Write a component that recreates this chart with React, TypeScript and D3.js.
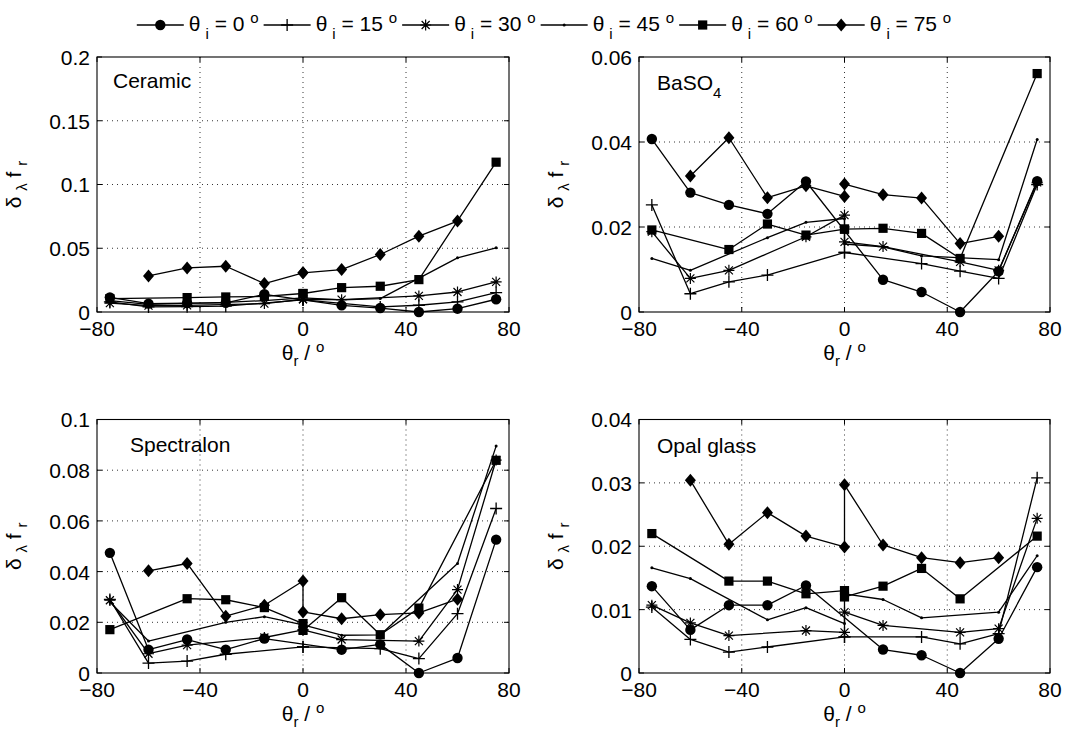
import { useEffect, useRef } from 'react'
import * as d3 from 'd3'

// reflection angles; 0 appears twice (measured from both sides)
const thetaR = [-75, -60, -45, -30, -15, 0, 0, 15, 30, 45, 60, 75]
const incidence = [0, 15, 30, 45, 60, 75]
const markerKinds = ['circle', 'plus', 'star', 'dot', 'square', 'diamond']
const xTicks = [-80, -40, 0, 40, 80]

// rows: theta_i = 0, 15, 30, 45, 60, 75
const ceramic = [
  [0.0115, 0.0066, 0.0070, 0.0072, 0.0139, null, null, 0.0052, 0.0031, 0.0, 0.0026, 0.0100],
  [0.0080, 0.0040, 0.0042, 0.0046, null, 0.0095, 0.0095, null, 0.0040, 0.0053, 0.0079, 0.0152],
  [0.0070, 0.0050, 0.0052, null, 0.0066, 0.0100, 0.0100, 0.0097, null, 0.0126, 0.0157, 0.0236],
  [0.0090, 0.0060, null, 0.0075, 0.0090, 0.0110, 0.0110, 0.0095, 0.0105, null, 0.0425, 0.0503],
  [0.0105, null, 0.0113, 0.0118, 0.0122, 0.0145, 0.0145, 0.0191, 0.0202, 0.0254, null, 0.1175],
  [null, 0.0283, 0.0346, 0.0359, 0.0223, 0.0307, 0.0307, 0.0333, 0.0451, 0.0595, 0.0713, null],
]
const baso4 = [
  [0.0407, 0.0281, 0.0252, 0.0231, 0.0307, null, null, 0.0076, 0.0047, 0.0, 0.0096, 0.0308],
  [0.0252, 0.0043, 0.0071, 0.0087, null, 0.0140, 0.0140, null, 0.0114, 0.0096, 0.0079, 0.0300],
  [0.0189, 0.0079, 0.0098, null, 0.0177, 0.0228, 0.0165, 0.0154, null, 0.0118, 0.0098, 0.0305],
  [0.0126, 0.0098, null, 0.0175, 0.0211, 0.0220, 0.0160, 0.0153, 0.0132, null, 0.0123, 0.0406],
  [0.0193, null, 0.0147, 0.0207, 0.0181, 0.0195, 0.0195, 0.0197, 0.0185, 0.0126, null, 0.0561],
  [null, 0.0320, 0.0410, 0.0269, 0.0297, 0.0272, 0.0301, 0.0276, 0.0268, 0.0161, 0.0178, null],
]
const spectralon = [
  [0.0474, 0.0092, 0.0132, 0.0092, 0.0136, null, null, 0.0092, 0.0113, 0.0, 0.0059, 0.0526],
  [0.0290, 0.0039, 0.0047, 0.0074, null, 0.0103, 0.0103, null, 0.0096, 0.0057, 0.0234, 0.0649],
  [0.0287, 0.0076, 0.0110, null, 0.0140, 0.0170, 0.0170, 0.0132, null, 0.0126, 0.0329, 0.0840],
  [0.0280, 0.0126, null, 0.0200, 0.0222, 0.0190, 0.0190, 0.0149, 0.0150, null, 0.0432, 0.0895],
  [0.0171, null, 0.0293, 0.0289, 0.0258, 0.0195, 0.0168, 0.0297, 0.0151, 0.0256, null, 0.0839],
  [null, 0.0403, 0.0432, 0.0224, 0.0267, 0.0363, 0.0241, 0.0214, 0.0230, 0.0237, 0.0291, null],
]
const opalGlass = [
  [0.0137, 0.0068, 0.0107, 0.0107, 0.0138, null, null, 0.0037, 0.0028, 0.0, 0.0054, 0.0167],
  [0.0104, 0.0053, 0.0033, 0.0041, null, 0.0057, 0.0057, null, 0.0057, 0.0046, 0.0062, 0.0308],
  [0.0107, 0.0079, 0.0059, null, 0.0067, 0.0064, 0.0096, 0.0075, null, 0.0064, 0.0070, 0.0244],
  [0.0166, 0.0149, null, 0.0084, 0.0103, 0.0078, 0.0125, 0.0116, 0.0087, null, 0.0096, 0.0185],
  [0.0220, null, 0.0145, 0.0145, 0.0125, 0.0130, 0.0120, 0.0137, 0.0165, 0.0117, null, 0.0216],
  [null, 0.0304, 0.0203, 0.0253, 0.0216, 0.0199, 0.0297, 0.0202, 0.0182, 0.0174, 0.0182, null],
]

const panelNames = ['Ceramic', 'BaSO', 'Spectralon', 'Opal glass']
const panelSubs = ['', '4', '', '']
const panelData = [ceramic, baso4, spectralon, opalGlass]
const yMaxes = [0.2, 0.06, 0.1, 0.04]
const yTickSets = [
  [0, 0.05, 0.1, 0.15, 0.2],
  [0, 0.02, 0.04, 0.06],
  [0, 0.02, 0.04, 0.06, 0.08, 0.1],
  [0, 0.01, 0.02, 0.03, 0.04],
]

const FONT = '"Liberation Sans", Arial, Helvetica, sans-serif'

function drawMarker(g: any, kind: string, cx: number, cy: number) {
  if (kind === 'circle') {
    g.append('circle').attr('cx', cx).attr('cy', cy).attr('r', 5.2).attr('fill', '#000')
  } else if (kind === 'dot') {
    g.append('circle').attr('cx', cx).attr('cy', cy).attr('r', 1.5).attr('fill', '#000')
  } else if (kind === 'square') {
    g.append('rect').attr('x', cx - 4.6).attr('y', cy - 4.6).attr('width', 9.2).attr('height', 9.2).attr('fill', '#000')
  } else if (kind === 'diamond') {
    g.append('path')
      .attr('d', `M${cx},${cy - 6.5}L${cx + 5.5},${cy}L${cx},${cy + 6.5}L${cx - 5.5},${cy}Z`)
      .attr('fill', '#000')
  } else if (kind === 'plus') {
    g.append('path')
      .attr('d', `M${cx - 6},${cy}H${cx + 6}M${cx},${cy - 6}V${cy + 6}`)
      .attr('stroke', '#000').attr('stroke-width', 1.3).attr('fill', 'none')
  } else if (kind === 'star') {
    const s = 5.5, d = 4
    g.append('path')
      .attr('d', `M${cx - s},${cy}H${cx + s}M${cx},${cy - s}V${cy + s}M${cx - d},${cy - d}L${cx + d},${cy + d}M${cx - d},${cy + d}L${cx + d},${cy - d}`)
      .attr('stroke', '#000').attr('stroke-width', 1.2).attr('fill', 'none')
  }
}

export default function App() {
  const svgRef = useRef<SVGSVGElement>(null)

  useEffect(() => {
    const svg = d3.select(svgRef.current)
    svg.selectAll('*').remove()
    svg.attr('font-family', FONT)

    const boxes = [
      { left: 97, top: 57, width: 412, height: 255 },
      { left: 639, top: 57, width: 411, height: 255 },
      { left: 97, top: 419.5, width: 412, height: 253.5 },
      { left: 639, top: 419.5, width: 411, height: 253.5 },
    ]
    const labelPos = [[16, 31], [18, 33], [33, 32], [18, 33]]

    panelData.forEach((series, k) => {
      const b = boxes[k]
      const g = svg.append('g').attr('transform', `translate(${b.left},${b.top})`)
      const x = d3.scaleLinear().domain([-80, 80]).range([0, b.width])
      const y = d3.scaleLinear().domain([0, yMaxes[k]]).range([b.height, 0])
      const yTicks = yTickSets[k]

      // dotted grid
      g.selectAll('.vgrid').data(xTicks.slice(1, -1)).join('line')
        .attr('x1', d => x(d)).attr('x2', d => x(d)).attr('y1', 0).attr('y2', b.height)
        .attr('stroke', '#000').attr('stroke-width', 0.8).attr('stroke-dasharray', '1 4')
      g.selectAll('.hgrid').data(yTicks.slice(1, -1)).join('line')
        .attr('x1', 0).attr('x2', b.width).attr('y1', d => y(d)).attr('y2', d => y(d))
        .attr('stroke', '#000').attr('stroke-width', 0.8).attr('stroke-dasharray', '1 4')

      // inward ticks on all sides
      const tl = 5
      xTicks.forEach(t => {
        g.append('line').attr('x1', x(t)).attr('x2', x(t)).attr('y1', b.height).attr('y2', b.height - tl).attr('stroke', '#000')
        g.append('line').attr('x1', x(t)).attr('x2', x(t)).attr('y1', 0).attr('y2', tl).attr('stroke', '#000')
      })
      yTicks.forEach(t => {
        g.append('line').attr('x1', 0).attr('x2', tl).attr('y1', y(t)).attr('y2', y(t)).attr('stroke', '#000')
        g.append('line').attr('x1', b.width).attr('x2', b.width - tl).attr('y1', y(t)).attr('y2', y(t)).attr('stroke', '#000')
      })

      // tick labels
      g.selectAll('.xt').data(xTicks).join('text')
        .attr('x', d => x(d)).attr('y', b.height + 24)
        .attr('text-anchor', 'middle').attr('font-size', 21)
        .text(d => (d < 0 ? '\u2212' + Math.abs(d) : String(d)))
      g.selectAll('.yt').data(yTicks).join('text')
        .attr('x', -7).attr('y', d => y(d)).attr('dy', '0.38em')
        .attr('text-anchor', 'end').attr('font-size', 21)
        .text(d => String(d))

      // series
      const line = d3.line<[number, number]>().x(d => x(d[0])).y(d => y(d[1]))
      series.forEach((vals, si) => {
        const pts = thetaR
          .map((t, i) => [t, vals[i]] as [number, number | null])
          .filter(p => p[1] !== null) as [number, number][]
        g.append('path').attr('d', line(pts)).attr('fill', 'none')
          .attr('stroke', '#000').attr('stroke-width', 1.3).attr('stroke-linejoin', 'round')
        pts.forEach(p => drawMarker(g, markerKinds[si], x(p[0]), y(p[1])))
      })

      // frame
      g.append('rect').attr('width', b.width).attr('height', b.height)
        .attr('fill', 'none').attr('stroke', '#000').attr('stroke-width', 1.1)

      // panel label
      const lt = g.append('text').attr('x', labelPos[k][0]).attr('y', labelPos[k][1]).attr('font-size', 21)
      lt.append('tspan').text(panelNames[k])
      if (panelSubs[k]) lt.append('tspan').attr('dy', 8).attr('font-size', 15).text(panelSubs[k])

      // x label
      const xl = g.append('text').attr('x', b.width / 2).attr('y', b.height + 48)
        .attr('text-anchor', 'middle').attr('font-size', 21)
      xl.append('tspan').text('\u03b8')
      xl.append('tspan').attr('dy', 6).attr('font-size', 15).text('r')
      xl.append('tspan').attr('dy', -6).text(' / ')
      xl.append('tspan').attr('dy', -8).attr('font-size', 15).text('o')

      // y label
      const yl = g.append('text')
        .attr('transform', `translate(-76,${b.height / 2}) rotate(-90)`)
        .attr('text-anchor', 'middle').attr('font-size', 21)
      yl.append('tspan').text('\u03b4 ')
      yl.append('tspan').attr('dy', 6).attr('font-size', 15).text('\u03bb')
      yl.append('tspan').attr('dy', -6).text(' f ')
      yl.append('tspan').attr('dy', 6).attr('font-size', 15).text('r')
    })

    // legend
    const leg = svg.append('g')
    let cursor = 0
    const ly = 25
    const gap = 10
    incidence.forEach((inc, i) => {
      const item = leg.append('g').attr('transform', `translate(${cursor},0)`)
      item.append('line').attr('x1', 0).attr('x2', 47).attr('y1', ly).attr('y2', ly)
        .attr('stroke', '#000').attr('stroke-width', 1.3)
      drawMarker(item, markerKinds[i], 23.5, ly)
      const t = item.append('text').attr('x', 52).attr('y', 31).attr('font-size', 21)
      t.append('tspan').text('\u03b8')
      t.append('tspan').attr('dx', 5).attr('dy', 8).attr('font-size', 15).text('i')
      t.append('tspan').attr('dy', -8).text(` = ${inc} `)
      t.append('tspan').attr('dy', -8).attr('font-size', 15).text('o')
      const w = (t.node() as SVGTextElement).getComputedTextLength()
      cursor += 52 + w + gap
    })
    const total = cursor - gap
    leg.attr('transform', `translate(${541.5 - total / 2},0)`)
  }, [])

  return (
    <svg
      ref={svgRef}
      width={1067}
      height={738}
      style={{ position: 'absolute', left: 0, top: 0, background: '#fff' }}
    />
  )
}
